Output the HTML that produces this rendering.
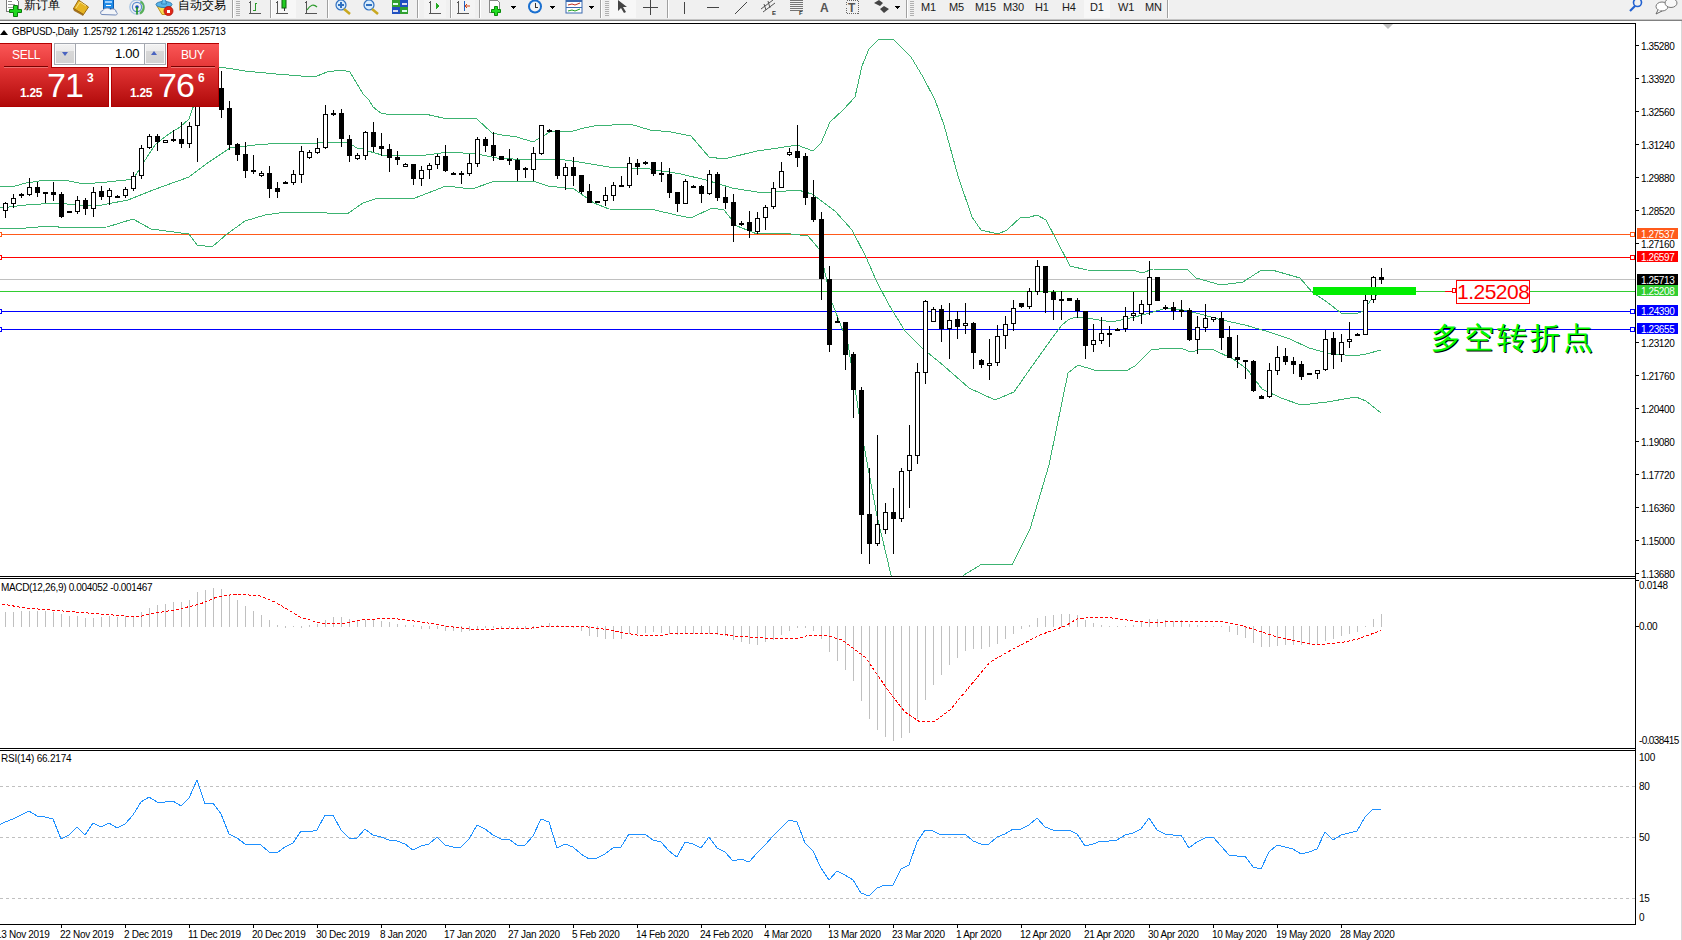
<!DOCTYPE html><html><head><meta charset="utf-8"><title>GBPUSD Daily</title><style>
html,body{margin:0;padding:0;width:1682px;height:940px;overflow:hidden;background:#fff}
.t{position:absolute;font-family:"Liberation Sans",sans-serif;white-space:nowrap;line-height:1}
.tb{font-size:11px;color:#1a1a1a;letter-spacing:-0.2px}.cj{font-family:"Liberation Serif",serif;font-size:12px;color:#000;font-weight:500}
svg{position:absolute;left:0;top:0}
</style></head><body>
<svg width="1682" height="940" viewBox="0 0 1682 940" shape-rendering="crispEdges" font-family='"Liberation Sans", sans-serif'>
<rect x="0" y="0" width="1682" height="19" fill="#f0f0f0"/>
<rect x="0" y="19" width="1682" height="1" fill="#c4c4c4"/>
<rect x="0" y="20" width="1682" height="1" fill="#808080"/>
<rect x="232" y="0" width="1" height="18" fill="#a0a0a0"/><rect x="233" y="0" width="1" height="18" fill="#ffffff"/>
<rect x="270" y="0" width="1" height="18" fill="#a0a0a0"/><rect x="271" y="0" width="1" height="18" fill="#ffffff"/>
<rect x="327" y="0" width="1" height="18" fill="#a0a0a0"/><rect x="328" y="0" width="1" height="18" fill="#ffffff"/>
<rect x="417" y="0" width="1" height="18" fill="#a0a0a0"/><rect x="418" y="0" width="1" height="18" fill="#ffffff"/>
<rect x="450" y="0" width="1" height="18" fill="#a0a0a0"/><rect x="451" y="0" width="1" height="18" fill="#ffffff"/>
<rect x="479" y="0" width="1" height="18" fill="#a0a0a0"/><rect x="480" y="0" width="1" height="18" fill="#ffffff"/>
<rect x="600" y="0" width="1" height="18" fill="#a0a0a0"/><rect x="601" y="0" width="1" height="18" fill="#ffffff"/>
<rect x="667" y="0" width="1" height="18" fill="#a0a0a0"/><rect x="668" y="0" width="1" height="18" fill="#ffffff"/>
<rect x="906" y="0" width="1" height="18" fill="#a0a0a0"/><rect x="907" y="0" width="1" height="18" fill="#ffffff"/>
<rect x="1167" y="0" width="1" height="18" fill="#a0a0a0"/><rect x="1168" y="0" width="1" height="18" fill="#ffffff"/>
<rect x="236" y="1" width="4" height="1" fill="#b0b0b0"/>
<rect x="236" y="3" width="4" height="1" fill="#b0b0b0"/>
<rect x="236" y="5" width="4" height="1" fill="#b0b0b0"/>
<rect x="236" y="7" width="4" height="1" fill="#b0b0b0"/>
<rect x="236" y="9" width="4" height="1" fill="#b0b0b0"/>
<rect x="236" y="11" width="4" height="1" fill="#b0b0b0"/>
<rect x="236" y="13" width="4" height="1" fill="#b0b0b0"/>
<rect x="236" y="15" width="4" height="1" fill="#b0b0b0"/>
<rect x="605" y="1" width="4" height="1" fill="#b0b0b0"/>
<rect x="605" y="3" width="4" height="1" fill="#b0b0b0"/>
<rect x="605" y="5" width="4" height="1" fill="#b0b0b0"/>
<rect x="605" y="7" width="4" height="1" fill="#b0b0b0"/>
<rect x="605" y="9" width="4" height="1" fill="#b0b0b0"/>
<rect x="605" y="11" width="4" height="1" fill="#b0b0b0"/>
<rect x="605" y="13" width="4" height="1" fill="#b0b0b0"/>
<rect x="605" y="15" width="4" height="1" fill="#b0b0b0"/>
<rect x="910" y="1" width="4" height="1" fill="#b0b0b0"/>
<rect x="910" y="3" width="4" height="1" fill="#b0b0b0"/>
<rect x="910" y="5" width="4" height="1" fill="#b0b0b0"/>
<rect x="910" y="7" width="4" height="1" fill="#b0b0b0"/>
<rect x="910" y="9" width="4" height="1" fill="#b0b0b0"/>
<rect x="910" y="11" width="4" height="1" fill="#b0b0b0"/>
<rect x="910" y="13" width="4" height="1" fill="#b0b0b0"/>
<rect x="910" y="15" width="4" height="1" fill="#b0b0b0"/>
<rect x="272" y="0" width="24" height="18" fill="#f7f7f7"/>
<rect x="610" y="0" width="26" height="18" fill="#f7f7f7"/>
<rect x="1084" y="0" width="26" height="18" fill="#f7f7f7"/>
<rect x="424" y="0" width="22" height="18" fill="#f4f4f4"/><rect x="453" y="0" width="22" height="18" fill="#f4f4f4"/>
<rect x="0" y="0" width="1" height="1" fill="#f0f0f0"/>
<path d="M6.5,-2 H15 L18.5,1.5 V11.5 H6.5 Z" fill="#fff" stroke="#7a7a7a"/>
<rect x="8" y="1" width="4" height="1" fill="#888"/><rect x="8" y="4" width="7" height="1" fill="#999"/><rect x="8" y="7" width="5" height="1" fill="#999"/>
<path d="M13.5,5.5 h4 v4 h4 v3 h-4 v4 h-4 v-4 h-4 v-3 h4 z" fill="#1ed81e" stroke="#0a7a0a" shape-rendering="auto"/>
<path d="M73.5,8.5 L78.5,0 L88.5,7 L83.5,14.5 Z" fill="#e6b422" stroke="#9a6a10" shape-rendering="auto"/>
<path d="M73.5,8.5 L83.5,14.5 L83,15.5 L74,10.5 Z" fill="#b07818" stroke="#8a5a10" stroke-width="0.6" shape-rendering="auto"/>
<path d="M76,8 L80,2 L86,6" fill="none" stroke="#f8e080" stroke-width="1" shape-rendering="auto"/>
<rect x="103.5" y="-1.5" width="10" height="10" fill="#1f8ae6" stroke="#0a5ab0" shape-rendering="auto"/>
<rect x="105" y="1" width="7" height="2" fill="#9fd0ff"/><rect x="106" y="5" width="5" height="1" fill="#fff"/>
<path d="M102,14.5 C100,14.5 100,10.5 103,10.5 C104,7.5 109,7.5 110.5,9.5 C112,8 116.5,9 116,12 C118,12.5 117.5,15 115.5,15 Z" fill="#f2f4f8" stroke="#6f88b8" shape-rendering="auto"/>
<circle cx="137" cy="7" r="7.2" fill="none" stroke="#a8c4e4" stroke-width="1.3" shape-rendering="auto"/>
<circle cx="137" cy="7" r="4.6" fill="none" stroke="#5a8ad0" stroke-width="1.2" shape-rendering="auto"/>
<circle cx="137" cy="7" r="1.8" fill="#1a50c0" shape-rendering="auto"/>
<path d="M140.5,1.5 A7,7 0 0 1 140,13.5" stroke="#58b058" stroke-width="2" fill="none" shape-rendering="auto"/>
<path d="M137,7 V14.5" stroke="#189018" stroke-width="1.6" fill="none" shape-rendering="auto"/>
<path d="M157,6 L171,6 L166,14.5 L162,14.5 Z" fill="#f6dc50" stroke="#c09020" shape-rendering="auto"/>
<ellipse cx="164" cy="4.5" rx="8" ry="3" fill="#5ab4e8" stroke="#2a78b0" shape-rendering="auto"/>
<path d="M161.5,4 L163,-2 L165,-2 L166.5,4 Z" fill="#68c0f0" stroke="#2a78b0" stroke-width="0.8" shape-rendering="auto"/>
<circle cx="168.5" cy="11" r="4.5" fill="#e02818" stroke="#b01008" stroke-width="0.8" shape-rendering="auto"/>
<rect x="167" y="9.5" width="3" height="3" fill="#fff"/>
<rect x="250" y="1" width="1" height="13" fill="#555"/><rect x="249" y="13" width="12" height="1" fill="#555"/>
<path d="M249,3 L250,1 L251,3 Z" fill="#555"/>
<rect x="255" y="3" width="1" height="8" fill="#2a9a2a"/><rect x="255" y="3" width="2" height="1" fill="#2a9a2a"/><rect x="253" y="10" width="2" height="1" fill="#2a9a2a"/>
<rect x="277" y="1" width="1" height="13" fill="#555"/><rect x="276" y="13" width="12" height="1" fill="#555"/>
<path d="M276,3 L277,1 L278,3 Z" fill="#555"/>
<rect x="282" y="-1" width="4" height="9" fill="#22cc22" stroke="#106010" shape-rendering="auto"/><rect x="284" y="8" width="1" height="3" fill="#333"/>
<rect x="306" y="1" width="1" height="13" fill="#555"/><rect x="305" y="13" width="12" height="1" fill="#555"/>
<path d="M305,3 L306,1 L307,3 Z" fill="#555"/>
<path d="M307,10 Q312,2 317,7" stroke="#2a9a2a" fill="none" stroke-width="1.2" shape-rendering="auto"/>
<circle cx="341" cy="5" r="5" fill="#d8ecfc" stroke="#3070c0" stroke-width="1.2" shape-rendering="auto"/>
<rect x="338" y="4" width="6" height="2" fill="#3070c0"/>
<rect x="340" y="2" width="2" height="6" fill="#3070c0"/>
<path d="M344,9 L350,14" stroke="#c8a820" stroke-width="2.5" shape-rendering="auto"/>
<circle cx="369" cy="5" r="5" fill="#d8ecfc" stroke="#3070c0" stroke-width="1.2" shape-rendering="auto"/>
<rect x="366" y="4" width="6" height="2" fill="#3070c0"/>
<path d="M372,9 L378,14" stroke="#c8a820" stroke-width="2.5" shape-rendering="auto"/>
<rect x="392" y="0" width="8" height="7" fill="#30a030"/><rect x="400" y="0" width="8" height="7" fill="#2050c0"/>
<rect x="392" y="7" width="8" height="7" fill="#2050c0"/><rect x="400" y="7" width="8" height="7" fill="#30a030"/>
<rect x="393" y="3" width="5" height="2" fill="#dfe"/><rect x="402" y="3" width="5" height="2" fill="#dde"/><rect x="393" y="10" width="5" height="2" fill="#dde"/><rect x="402" y="10" width="5" height="2" fill="#dfe"/>
<rect x="430" y="1" width="1" height="13" fill="#555"/><rect x="429" y="13" width="12" height="1" fill="#555"/>
<path d="M429,3 L430,1 L431,3 Z" fill="#555"/>
<path d="M436,3 L440,6 L436,9 Z" fill="#22aa22"/>
<rect x="458" y="1" width="1" height="13" fill="#555"/><rect x="457" y="13" width="12" height="1" fill="#555"/>
<path d="M457,3 L458,1 L459,3 Z" fill="#555"/>
<rect x="464" y="1" width="1" height="10" fill="#2060c0"/><path d="M470,6 L466,6 M467,4 L465,6 L467,8" stroke="#d04010" fill="none" shape-rendering="auto"/>
<path d="M489.5,0 H497 L499.5,2.5 V12.5 H489.5 Z" fill="#fff" stroke="#888"/>
<path d="M494.5,6.5 h3 v3 h3 v3 h-3 v3 h-3 v-3 h-3 v-3 h3 z" fill="#22dd22" stroke="#0a8a0a" shape-rendering="auto"/>
<path d="M510,6 L516,6 L513,9 Z" fill="#000"/>
<path d="M549,6 L555,6 L552,9 Z" fill="#000"/>
<path d="M588,6 L594,6 L591,9 Z" fill="#000"/>
<path d="M894,6 L900,6 L897,9 Z" fill="#000"/>
<circle cx="535" cy="6.5" r="7" fill="#1a70d0" shape-rendering="auto"/><circle cx="535" cy="6.5" r="5" fill="#f4f4f4" shape-rendering="auto"/>
<path d="M535,3 V7 H538" stroke="#333" fill="none"/>
<rect x="566" y="0" width="16" height="13" fill="#fff" stroke="#3a6ab0" shape-rendering="auto"/><rect x="566" y="0" width="16" height="2" fill="#3a6ab0"/><rect x="566" y="7" width="16" height="1" fill="#3a6ab0"/>
<path d="M568,5 L572,4 L575,5 L580,3" stroke="#c03020" fill="none" shape-rendering="auto"/><path d="M568,11 L572,10 L575,11 L580,9" stroke="#20a020" fill="none" shape-rendering="auto"/>
<path d="M618,0 L618,11 L621,8 L624,13 L626,12 L623,7 L627,7 Z" fill="#444" shape-rendering="auto"/>
<rect x="643" y="7" width="15" height="1" fill="#444"/><rect x="650" y="0" width="1" height="15" fill="#444"/>
<rect x="684" y="2" width="1" height="12" fill="#444"/>
<rect x="707" y="7" width="12" height="1" fill="#444"/>
<path d="M735,14 L747,2" stroke="#444" shape-rendering="auto"/>
<path d="M761,9 L773,0 M763,12 L775,3 M764,4 L766,10 M768,1 L770,8" stroke="#555" fill="none" shape-rendering="auto"/>
<text x="772" y="15" font-size="6" font-weight="bold" fill="#333">E</text>
<rect x="790" y="0" width="13" height="1" fill="#555" opacity="0.8"/>
<rect x="790" y="2" width="13" height="1" fill="#555" opacity="0.8"/>
<rect x="790" y="4" width="13" height="1" fill="#555" opacity="0.8"/>
<rect x="790" y="6" width="13" height="1" fill="#555" opacity="0.8"/>
<rect x="790" y="8" width="13" height="1" fill="#555" opacity="0.8"/>
<rect x="790" y="10" width="13" height="1" fill="#555" opacity="0.8"/>
<text x="799" y="15" font-size="6" font-weight="bold" fill="#333">F</text>
<text x="820" y="12" font-size="12" font-weight="bold" fill="#555">A</text>
<rect x="846.5" y="0.5" width="12" height="13" fill="none" stroke="#666" stroke-dasharray="1,1"/>
<text x="848" y="12" font-size="12" font-weight="bold" fill="#555">T</text>
<path d="M874,3 L879,0 L883,3 L880,6 Z M880,9 L884,6 L889,9 L884,13 Z" fill="#444" shape-rendering="auto"/>
<circle cx="1637.5" cy="2.5" r="4" fill="none" stroke="#2060d0" stroke-width="1.6" shape-rendering="auto"/>
<path d="M1635,6 L1630,11" stroke="#2060d0" stroke-width="2.2" shape-rendering="auto"/>
<ellipse cx="1662" cy="6.5" rx="6" ry="4.5" fill="#fff" stroke="#777" shape-rendering="auto"/>
<ellipse cx="1671" cy="3" rx="6" ry="4.5" fill="#f8f8f8" stroke="#777" shape-rendering="auto"/>
<path d="M1658,10 L1656,14 L1662,11" fill="#fff" stroke="#666" shape-rendering="auto"/>
<rect x="1681" y="21" width="1" height="919" fill="#d9d9d9"/>
<defs><clipPath id="cm"><rect x="0" y="24" width="1635" height="552"/></clipPath><clipPath id="cd"><rect x="0" y="579" width="1635" height="169"/></clipPath><clipPath id="cr"><rect x="0" y="751" width="1635" height="173"/></clipPath></defs>
<g clip-path="url(#cm)">
<rect x="0" y="234" width="1635" height="1" fill="#ff5a1a"/>
<rect x="0" y="257" width="1635" height="1" fill="#ff0000"/>
<rect x="0" y="279" width="1635" height="1" fill="#c0c0c0"/>
<rect x="0" y="291" width="1635" height="1" fill="#32cd32"/>
<rect x="0" y="311" width="1635" height="1" fill="#0000ff"/>
<rect x="0" y="329" width="1635" height="1" fill="#0000ff"/>
<rect x="-3" y="232" width="4" height="4" fill="#fff" stroke="#ff5a1a" stroke-width="1" transform="translate(0.5,0.5)"/>
<rect x="1630" y="232" width="4" height="4" fill="#fff" stroke="#ff5a1a" stroke-width="1" transform="translate(0.5,0.5)"/>
<rect x="-3" y="255" width="4" height="4" fill="#fff" stroke="#ff0000" stroke-width="1" transform="translate(0.5,0.5)"/>
<rect x="1630" y="255" width="4" height="4" fill="#fff" stroke="#ff0000" stroke-width="1" transform="translate(0.5,0.5)"/>
<rect x="-3" y="309" width="4" height="4" fill="#fff" stroke="#0000ff" stroke-width="1" transform="translate(0.5,0.5)"/>
<rect x="1630" y="309" width="4" height="4" fill="#fff" stroke="#0000ff" stroke-width="1" transform="translate(0.5,0.5)"/>
<rect x="-3" y="327" width="4" height="4" fill="#fff" stroke="#0000ff" stroke-width="1" transform="translate(0.5,0.5)"/>
<rect x="1630" y="327" width="4" height="4" fill="#fff" stroke="#0000ff" stroke-width="1" transform="translate(0.5,0.5)"/>
<polyline points="0,187 15,186 26,183 46,180 64,180 84,184 107,182 126,180 133,179 139,170 149,154 155,145 162,139 169,134 180,127 189,119 192,110 196,100 220,67 245,71 276,74 301,76 317,76 327,72 342,70 350,72 363,94 369,100 373,107 381,113 386,114 425,114 443,118 477,119 492,133 502,135 517,137 533,142 543,136 552,131 573,131 584,128 594,126 630,124 650,130 671,132 691,136 709,157 724,159 757,151 778,148 797,145 805,148 813,151 821,143 830,122 843,110 855,97 862,66 869,49 878,40 893,39 911,57 923,77 935,100 944,125 958,176 972,217 981,230 998,234 1007,230 1021,217 1030,217 1037,215 1046,220 1058,243 1070,266 1087,270 1136,271 1142,273 1153,269 1188,270 1196,278 1221,285 1243,282 1260,271 1272,270 1300,278 1312,292 1327,302 1341,313 1356,314 1363,311 1371,300 1381,292" fill="none" stroke="#3cb371" stroke-width="1" />
<polyline points="0,208 26,205 56,203 77,205 102,205 128,200 153,190 189,177 209,162 230,148 255,145 281,143 306,144 329,142 345,142 352,145 357,148 363,149 368,151 375,153 382,155 400,156 426,155 449,152 477,154 497,158 528,160 558,159 579,162 609,167 650,169 681,174 706,180 732,188 763,193 798,190 812,194 835,211 852,230 866,257 876,280 889,305 905,331 921,347 944,366 969,388 995,400 1014,392 1030,369 1055,334 1062,325 1068,320 1075,317 1082,317 1099,320 1106,321 1116,321 1135,317 1167,308 1183,310 1200,314 1222,320 1245,325 1269,332 1290,339 1309,348 1327,353 1354,356 1366,354 1381,350" fill="none" stroke="#3cb371" stroke-width="1" />
<polyline points="0,229 26,228 51,226 66,228 107,227 133,219 151,229 189,234 197,245 212,247 227,234 245,221 265,215 286,212 306,212 347,214 363,203 378,198 415,198 446,186 472,189 495,181 533,181 548,186 574,189 594,203 609,209 655,210 676,215 691,218 712,208 724,210 737,226 757,234 783,233 808,236 820,250 831,300 848,344 864,446 877,516 891,575 900,600 950,600 964,575 982,564 1012,565 1030,529 1049,465 1068,373 1078,365 1094,370 1126,371 1135,366 1151,350 1167,348 1183,349 1191,352 1202,349 1214,350 1233,359 1247,369 1262,389 1281,398 1301,405 1327,402 1356,397 1366,401 1381,413" fill="none" stroke="#3cb371" stroke-width="1" />
<rect x="5" y="202" width="1" height="16" fill="#000"/>
<rect x="3" y="203" width="5" height="8" fill="#000"/>
<rect x="4" y="204" width="3" height="6" fill="#fff"/>
<rect x="13" y="194" width="1" height="14" fill="#000"/>
<rect x="11" y="198" width="5" height="6" fill="#000"/>
<rect x="12" y="199" width="3" height="4" fill="#fff"/>
<rect x="21" y="193" width="1" height="5" fill="#000"/>
<rect x="19" y="194" width="5" height="2" fill="#000"/>
<rect x="29" y="178" width="1" height="18" fill="#000"/>
<rect x="27" y="187" width="5" height="8" fill="#000"/>
<rect x="28" y="188" width="3" height="6" fill="#fff"/>
<rect x="37" y="182" width="1" height="15" fill="#000"/>
<rect x="35" y="187" width="5" height="6" fill="#000"/>
<rect x="45" y="192" width="1" height="11" fill="#000"/>
<rect x="43" y="192" width="5" height="2" fill="#000"/>
<rect x="53" y="182" width="1" height="19" fill="#000"/>
<rect x="51" y="192" width="5" height="3" fill="#000"/>
<rect x="61" y="192" width="1" height="26" fill="#000"/>
<rect x="59" y="194" width="5" height="23" fill="#000"/>
<rect x="69" y="212" width="1" height="1" fill="#000"/>
<rect x="67" y="211" width="5" height="2" fill="#000"/>
<rect x="77" y="196" width="1" height="18" fill="#000"/>
<rect x="75" y="200" width="5" height="12" fill="#000"/>
<rect x="76" y="201" width="3" height="10" fill="#fff"/>
<rect x="85" y="198" width="1" height="17" fill="#000"/>
<rect x="83" y="200" width="5" height="9" fill="#000"/>
<rect x="93" y="187" width="1" height="30" fill="#000"/>
<rect x="91" y="192" width="5" height="17" fill="#000"/>
<rect x="92" y="193" width="3" height="15" fill="#fff"/>
<rect x="101" y="186" width="1" height="14" fill="#000"/>
<rect x="99" y="191" width="5" height="6" fill="#000"/>
<rect x="109" y="188" width="1" height="17" fill="#000"/>
<rect x="107" y="190" width="5" height="7" fill="#000"/>
<rect x="108" y="191" width="3" height="5" fill="#fff"/>
<rect x="117" y="195" width="1" height="2" fill="#000"/>
<rect x="115" y="196" width="5" height="2" fill="#000"/>
<rect x="125" y="187" width="1" height="11" fill="#000"/>
<rect x="123" y="189" width="5" height="7" fill="#000"/>
<rect x="124" y="190" width="3" height="5" fill="#fff"/>
<rect x="133" y="172" width="1" height="19" fill="#000"/>
<rect x="131" y="176" width="5" height="13" fill="#000"/>
<rect x="132" y="177" width="3" height="11" fill="#fff"/>
<rect x="141" y="145" width="1" height="34" fill="#000"/>
<rect x="139" y="148" width="5" height="28" fill="#000"/>
<rect x="140" y="149" width="3" height="26" fill="#fff"/>
<rect x="149" y="134" width="1" height="15" fill="#000"/>
<rect x="147" y="136" width="5" height="12" fill="#000"/>
<rect x="148" y="137" width="3" height="10" fill="#fff"/>
<rect x="157" y="134" width="1" height="17" fill="#000"/>
<rect x="155" y="136" width="5" height="6" fill="#000"/>
<rect x="165" y="140" width="1" height="3" fill="#000"/>
<rect x="163" y="140" width="5" height="3" fill="#000"/>
<rect x="164" y="141" width="3" height="1" fill="#fff"/>
<rect x="173" y="130" width="1" height="12" fill="#000"/>
<rect x="171" y="139" width="5" height="2" fill="#000"/>
<rect x="181" y="122" width="1" height="26" fill="#000"/>
<rect x="179" y="139" width="5" height="5" fill="#000"/>
<rect x="189" y="122" width="1" height="26" fill="#000"/>
<rect x="187" y="126" width="5" height="18" fill="#000"/>
<rect x="188" y="127" width="3" height="16" fill="#fff"/>
<rect x="197" y="95" width="1" height="67" fill="#000"/>
<rect x="195" y="100" width="5" height="26" fill="#000"/>
<rect x="196" y="101" width="3" height="24" fill="#fff"/>
<rect x="205" y="49" width="1" height="51" fill="#000"/>
<rect x="203" y="60" width="5" height="35" fill="#000"/>
<rect x="204" y="61" width="3" height="33" fill="#fff"/>
<rect x="213" y="60" width="1" height="15" fill="#000"/>
<rect x="211" y="62" width="5" height="8" fill="#000"/>
<rect x="221" y="71" width="1" height="47" fill="#000"/>
<rect x="219" y="88" width="5" height="22" fill="#000"/>
<rect x="229" y="101" width="1" height="49" fill="#000"/>
<rect x="227" y="108" width="5" height="37" fill="#000"/>
<rect x="237" y="143" width="1" height="18" fill="#000"/>
<rect x="235" y="144" width="5" height="11" fill="#000"/>
<rect x="245" y="142" width="1" height="36" fill="#000"/>
<rect x="243" y="154" width="5" height="17" fill="#000"/>
<rect x="253" y="155" width="1" height="19" fill="#000"/>
<rect x="251" y="170" width="5" height="2" fill="#000"/>
<rect x="261" y="171" width="1" height="6" fill="#000"/>
<rect x="259" y="173" width="5" height="3" fill="#000"/>
<rect x="260" y="174" width="3" height="1" fill="#fff"/>
<rect x="269" y="166" width="1" height="32" fill="#000"/>
<rect x="267" y="173" width="5" height="16" fill="#000"/>
<rect x="277" y="182" width="1" height="16" fill="#000"/>
<rect x="275" y="188" width="5" height="4" fill="#000"/>
<rect x="285" y="181" width="1" height="2" fill="#000"/>
<rect x="283" y="182" width="5" height="2" fill="#000"/>
<rect x="293" y="170" width="1" height="15" fill="#000"/>
<rect x="291" y="174" width="5" height="9" fill="#000"/>
<rect x="292" y="175" width="3" height="7" fill="#fff"/>
<rect x="301" y="146" width="1" height="37" fill="#000"/>
<rect x="299" y="151" width="5" height="24" fill="#000"/>
<rect x="300" y="152" width="3" height="22" fill="#fff"/>
<rect x="309" y="150" width="1" height="9" fill="#000"/>
<rect x="307" y="152" width="5" height="6" fill="#000"/>
<rect x="308" y="153" width="3" height="4" fill="#fff"/>
<rect x="317" y="138" width="1" height="16" fill="#000"/>
<rect x="315" y="148" width="5" height="5" fill="#000"/>
<rect x="316" y="149" width="3" height="3" fill="#fff"/>
<rect x="325" y="105" width="1" height="44" fill="#000"/>
<rect x="323" y="114" width="5" height="34" fill="#000"/>
<rect x="324" y="115" width="3" height="32" fill="#fff"/>
<rect x="333" y="110" width="1" height="6" fill="#000"/>
<rect x="331" y="113" width="5" height="2" fill="#000"/>
<rect x="341" y="109" width="1" height="38" fill="#000"/>
<rect x="339" y="113" width="5" height="26" fill="#000"/>
<rect x="349" y="135" width="1" height="27" fill="#000"/>
<rect x="347" y="139" width="5" height="17" fill="#000"/>
<rect x="357" y="153" width="1" height="7" fill="#000"/>
<rect x="355" y="155" width="5" height="4" fill="#000"/>
<rect x="356" y="156" width="3" height="2" fill="#fff"/>
<rect x="365" y="131" width="1" height="29" fill="#000"/>
<rect x="363" y="132" width="5" height="24" fill="#000"/>
<rect x="364" y="133" width="3" height="22" fill="#fff"/>
<rect x="373" y="122" width="1" height="30" fill="#000"/>
<rect x="371" y="132" width="5" height="15" fill="#000"/>
<rect x="381" y="133" width="1" height="23" fill="#000"/>
<rect x="379" y="146" width="5" height="3" fill="#000"/>
<rect x="389" y="144" width="1" height="28" fill="#000"/>
<rect x="387" y="149" width="5" height="9" fill="#000"/>
<rect x="397" y="151" width="1" height="14" fill="#000"/>
<rect x="395" y="157" width="5" height="3" fill="#000"/>
<rect x="405" y="163" width="1" height="4" fill="#000"/>
<rect x="403" y="164" width="5" height="3" fill="#000"/>
<rect x="404" y="165" width="3" height="1" fill="#fff"/>
<rect x="413" y="164" width="1" height="21" fill="#000"/>
<rect x="411" y="164" width="5" height="15" fill="#000"/>
<rect x="421" y="166" width="1" height="20" fill="#000"/>
<rect x="419" y="170" width="5" height="9" fill="#000"/>
<rect x="420" y="171" width="3" height="7" fill="#fff"/>
<rect x="429" y="163" width="1" height="16" fill="#000"/>
<rect x="427" y="165" width="5" height="5" fill="#000"/>
<rect x="428" y="166" width="3" height="3" fill="#fff"/>
<rect x="437" y="154" width="1" height="15" fill="#000"/>
<rect x="435" y="156" width="5" height="9" fill="#000"/>
<rect x="436" y="157" width="3" height="7" fill="#fff"/>
<rect x="445" y="145" width="1" height="27" fill="#000"/>
<rect x="443" y="156" width="5" height="15" fill="#000"/>
<rect x="453" y="172" width="1" height="3" fill="#000"/>
<rect x="451" y="173" width="5" height="2" fill="#000"/>
<rect x="461" y="171" width="1" height="13" fill="#000"/>
<rect x="459" y="173" width="5" height="2" fill="#000"/>
<rect x="469" y="154" width="1" height="22" fill="#000"/>
<rect x="467" y="163" width="5" height="11" fill="#000"/>
<rect x="468" y="164" width="3" height="9" fill="#fff"/>
<rect x="477" y="137" width="1" height="30" fill="#000"/>
<rect x="475" y="139" width="5" height="25" fill="#000"/>
<rect x="476" y="140" width="3" height="23" fill="#fff"/>
<rect x="485" y="137" width="1" height="15" fill="#000"/>
<rect x="483" y="139" width="5" height="7" fill="#000"/>
<rect x="493" y="132" width="1" height="29" fill="#000"/>
<rect x="491" y="145" width="5" height="11" fill="#000"/>
<rect x="501" y="156" width="1" height="4" fill="#000"/>
<rect x="499" y="156" width="5" height="4" fill="#000"/>
<rect x="509" y="149" width="1" height="16" fill="#000"/>
<rect x="507" y="159" width="5" height="2" fill="#000"/>
<rect x="517" y="158" width="1" height="23" fill="#000"/>
<rect x="515" y="160" width="5" height="10" fill="#000"/>
<rect x="525" y="167" width="1" height="11" fill="#000"/>
<rect x="523" y="168" width="5" height="2" fill="#000"/>
<rect x="533" y="147" width="1" height="34" fill="#000"/>
<rect x="531" y="153" width="5" height="17" fill="#000"/>
<rect x="532" y="154" width="3" height="15" fill="#fff"/>
<rect x="541" y="125" width="1" height="30" fill="#000"/>
<rect x="539" y="125" width="5" height="29" fill="#000"/>
<rect x="540" y="126" width="3" height="27" fill="#fff"/>
<rect x="549" y="129" width="1" height="3" fill="#000"/>
<rect x="547" y="130" width="5" height="2" fill="#000"/>
<rect x="557" y="130" width="1" height="49" fill="#000"/>
<rect x="555" y="130" width="5" height="46" fill="#000"/>
<rect x="565" y="163" width="1" height="27" fill="#000"/>
<rect x="563" y="167" width="5" height="9" fill="#000"/>
<rect x="564" y="168" width="3" height="7" fill="#fff"/>
<rect x="573" y="157" width="1" height="29" fill="#000"/>
<rect x="571" y="167" width="5" height="9" fill="#000"/>
<rect x="581" y="175" width="1" height="19" fill="#000"/>
<rect x="579" y="175" width="5" height="17" fill="#000"/>
<rect x="589" y="184" width="1" height="19" fill="#000"/>
<rect x="587" y="191" width="5" height="12" fill="#000"/>
<rect x="597" y="201" width="1" height="2" fill="#000"/>
<rect x="595" y="201" width="5" height="2" fill="#000"/>
<rect x="605" y="187" width="1" height="19" fill="#000"/>
<rect x="603" y="195" width="5" height="6" fill="#000"/>
<rect x="604" y="196" width="3" height="4" fill="#fff"/>
<rect x="613" y="182" width="1" height="19" fill="#000"/>
<rect x="611" y="185" width="5" height="11" fill="#000"/>
<rect x="612" y="186" width="3" height="9" fill="#fff"/>
<rect x="621" y="176" width="1" height="10" fill="#000"/>
<rect x="619" y="185" width="5" height="2" fill="#000"/>
<rect x="629" y="157" width="1" height="31" fill="#000"/>
<rect x="627" y="163" width="5" height="23" fill="#000"/>
<rect x="628" y="164" width="3" height="21" fill="#fff"/>
<rect x="637" y="159" width="1" height="16" fill="#000"/>
<rect x="635" y="163" width="5" height="4" fill="#000"/>
<rect x="645" y="161" width="1" height="4" fill="#000"/>
<rect x="643" y="162" width="5" height="2" fill="#000"/>
<rect x="653" y="162" width="1" height="14" fill="#000"/>
<rect x="651" y="162" width="5" height="12" fill="#000"/>
<rect x="661" y="162" width="1" height="20" fill="#000"/>
<rect x="659" y="173" width="5" height="2" fill="#000"/>
<rect x="669" y="168" width="1" height="30" fill="#000"/>
<rect x="667" y="174" width="5" height="19" fill="#000"/>
<rect x="677" y="192" width="1" height="20" fill="#000"/>
<rect x="675" y="192" width="5" height="12" fill="#000"/>
<rect x="685" y="179" width="1" height="25" fill="#000"/>
<rect x="683" y="181" width="5" height="23" fill="#000"/>
<rect x="684" y="182" width="3" height="21" fill="#fff"/>
<rect x="693" y="185" width="1" height="3" fill="#000"/>
<rect x="691" y="186" width="5" height="2" fill="#000"/>
<rect x="701" y="185" width="1" height="18" fill="#000"/>
<rect x="699" y="186" width="5" height="8" fill="#000"/>
<rect x="709" y="170" width="1" height="25" fill="#000"/>
<rect x="707" y="174" width="5" height="20" fill="#000"/>
<rect x="708" y="175" width="3" height="18" fill="#fff"/>
<rect x="717" y="172" width="1" height="29" fill="#000"/>
<rect x="715" y="174" width="5" height="24" fill="#000"/>
<rect x="725" y="187" width="1" height="22" fill="#000"/>
<rect x="723" y="197" width="5" height="6" fill="#000"/>
<rect x="733" y="194" width="1" height="48" fill="#000"/>
<rect x="731" y="202" width="5" height="24" fill="#000"/>
<rect x="741" y="221" width="1" height="5" fill="#000"/>
<rect x="739" y="223" width="5" height="2" fill="#000"/>
<rect x="749" y="211" width="1" height="27" fill="#000"/>
<rect x="747" y="222" width="5" height="9" fill="#000"/>
<rect x="757" y="212" width="1" height="22" fill="#000"/>
<rect x="755" y="218" width="5" height="14" fill="#000"/>
<rect x="756" y="219" width="3" height="12" fill="#fff"/>
<rect x="765" y="205" width="1" height="25" fill="#000"/>
<rect x="763" y="207" width="5" height="11" fill="#000"/>
<rect x="764" y="208" width="3" height="9" fill="#fff"/>
<rect x="773" y="182" width="1" height="27" fill="#000"/>
<rect x="771" y="188" width="5" height="19" fill="#000"/>
<rect x="772" y="189" width="3" height="17" fill="#fff"/>
<rect x="781" y="162" width="1" height="26" fill="#000"/>
<rect x="779" y="171" width="5" height="17" fill="#000"/>
<rect x="780" y="172" width="3" height="15" fill="#fff"/>
<rect x="789" y="148" width="1" height="8" fill="#000"/>
<rect x="787" y="152" width="5" height="3" fill="#000"/>
<rect x="788" y="153" width="3" height="1" fill="#fff"/>
<rect x="797" y="125" width="1" height="42" fill="#000"/>
<rect x="795" y="151" width="5" height="7" fill="#000"/>
<rect x="805" y="153" width="1" height="52" fill="#000"/>
<rect x="803" y="156" width="5" height="42" fill="#000"/>
<rect x="813" y="180" width="1" height="42" fill="#000"/>
<rect x="811" y="197" width="5" height="23" fill="#000"/>
<rect x="821" y="212" width="1" height="88" fill="#000"/>
<rect x="819" y="219" width="5" height="60" fill="#000"/>
<rect x="829" y="266" width="1" height="86" fill="#000"/>
<rect x="827" y="279" width="5" height="66" fill="#000"/>
<rect x="837" y="317" width="1" height="6" fill="#000"/>
<rect x="835" y="321" width="5" height="2" fill="#000"/>
<rect x="845" y="322" width="1" height="48" fill="#000"/>
<rect x="843" y="322" width="5" height="33" fill="#000"/>
<rect x="853" y="352" width="1" height="66" fill="#000"/>
<rect x="851" y="354" width="5" height="36" fill="#000"/>
<rect x="861" y="387" width="1" height="167" fill="#000"/>
<rect x="859" y="390" width="5" height="125" fill="#000"/>
<rect x="869" y="468" width="1" height="96" fill="#000"/>
<rect x="867" y="514" width="5" height="30" fill="#000"/>
<rect x="877" y="435" width="1" height="111" fill="#000"/>
<rect x="875" y="524" width="5" height="20" fill="#000"/>
<rect x="876" y="525" width="3" height="18" fill="#fff"/>
<rect x="885" y="503" width="1" height="31" fill="#000"/>
<rect x="883" y="512" width="5" height="18" fill="#000"/>
<rect x="884" y="513" width="3" height="16" fill="#fff"/>
<rect x="893" y="488" width="1" height="66" fill="#000"/>
<rect x="891" y="512" width="5" height="7" fill="#000"/>
<rect x="901" y="468" width="1" height="54" fill="#000"/>
<rect x="899" y="471" width="5" height="48" fill="#000"/>
<rect x="900" y="472" width="3" height="46" fill="#fff"/>
<rect x="909" y="425" width="1" height="83" fill="#000"/>
<rect x="907" y="455" width="5" height="16" fill="#000"/>
<rect x="908" y="456" width="3" height="14" fill="#fff"/>
<rect x="917" y="363" width="1" height="101" fill="#000"/>
<rect x="915" y="372" width="5" height="84" fill="#000"/>
<rect x="916" y="373" width="3" height="82" fill="#fff"/>
<rect x="925" y="300" width="1" height="84" fill="#000"/>
<rect x="923" y="301" width="5" height="72" fill="#000"/>
<rect x="924" y="302" width="3" height="70" fill="#fff"/>
<rect x="933" y="307" width="1" height="15" fill="#000"/>
<rect x="931" y="309" width="5" height="13" fill="#000"/>
<rect x="932" y="310" width="3" height="11" fill="#fff"/>
<rect x="941" y="305" width="1" height="37" fill="#000"/>
<rect x="939" y="309" width="5" height="20" fill="#000"/>
<rect x="949" y="303" width="1" height="56" fill="#000"/>
<rect x="947" y="320" width="5" height="9" fill="#000"/>
<rect x="948" y="321" width="3" height="7" fill="#fff"/>
<rect x="957" y="311" width="1" height="28" fill="#000"/>
<rect x="955" y="319" width="5" height="8" fill="#000"/>
<rect x="965" y="303" width="1" height="31" fill="#000"/>
<rect x="963" y="323" width="5" height="3" fill="#000"/>
<rect x="964" y="324" width="3" height="1" fill="#fff"/>
<rect x="973" y="322" width="1" height="47" fill="#000"/>
<rect x="971" y="323" width="5" height="30" fill="#000"/>
<rect x="981" y="359" width="1" height="9" fill="#000"/>
<rect x="979" y="360" width="5" height="5" fill="#000"/>
<rect x="989" y="339" width="1" height="41" fill="#000"/>
<rect x="987" y="363" width="5" height="3" fill="#000"/>
<rect x="988" y="364" width="3" height="1" fill="#fff"/>
<rect x="997" y="325" width="1" height="41" fill="#000"/>
<rect x="995" y="336" width="5" height="27" fill="#000"/>
<rect x="996" y="337" width="3" height="25" fill="#fff"/>
<rect x="1005" y="316" width="1" height="33" fill="#000"/>
<rect x="1003" y="324" width="5" height="12" fill="#000"/>
<rect x="1004" y="325" width="3" height="10" fill="#fff"/>
<rect x="1013" y="300" width="1" height="31" fill="#000"/>
<rect x="1011" y="308" width="5" height="16" fill="#000"/>
<rect x="1012" y="309" width="3" height="14" fill="#fff"/>
<rect x="1021" y="303" width="1" height="5" fill="#000"/>
<rect x="1019" y="303" width="5" height="4" fill="#000"/>
<rect x="1029" y="288" width="1" height="21" fill="#000"/>
<rect x="1027" y="291" width="5" height="16" fill="#000"/>
<rect x="1028" y="292" width="3" height="14" fill="#fff"/>
<rect x="1037" y="260" width="1" height="35" fill="#000"/>
<rect x="1035" y="266" width="5" height="26" fill="#000"/>
<rect x="1036" y="267" width="3" height="24" fill="#fff"/>
<rect x="1045" y="266" width="1" height="47" fill="#000"/>
<rect x="1043" y="266" width="5" height="27" fill="#000"/>
<rect x="1053" y="290" width="1" height="30" fill="#000"/>
<rect x="1051" y="292" width="5" height="8" fill="#000"/>
<rect x="1061" y="291" width="1" height="29" fill="#000"/>
<rect x="1059" y="299" width="5" height="2" fill="#000"/>
<rect x="1069" y="298" width="1" height="3" fill="#000"/>
<rect x="1067" y="298" width="5" height="3" fill="#000"/>
<rect x="1077" y="298" width="1" height="20" fill="#000"/>
<rect x="1075" y="300" width="5" height="11" fill="#000"/>
<rect x="1085" y="311" width="1" height="48" fill="#000"/>
<rect x="1083" y="311" width="5" height="35" fill="#000"/>
<rect x="1093" y="324" width="1" height="28" fill="#000"/>
<rect x="1091" y="340" width="5" height="5" fill="#000"/>
<rect x="1092" y="341" width="3" height="3" fill="#fff"/>
<rect x="1101" y="317" width="1" height="27" fill="#000"/>
<rect x="1099" y="333" width="5" height="8" fill="#000"/>
<rect x="1100" y="334" width="3" height="6" fill="#fff"/>
<rect x="1109" y="326" width="1" height="21" fill="#000"/>
<rect x="1107" y="333" width="5" height="2" fill="#000"/>
<rect x="1117" y="328" width="1" height="3" fill="#000"/>
<rect x="1115" y="329" width="5" height="2" fill="#000"/>
<rect x="1125" y="307" width="1" height="25" fill="#000"/>
<rect x="1123" y="316" width="5" height="13" fill="#000"/>
<rect x="1124" y="317" width="3" height="11" fill="#fff"/>
<rect x="1133" y="292" width="1" height="29" fill="#000"/>
<rect x="1131" y="313" width="5" height="3" fill="#000"/>
<rect x="1132" y="314" width="3" height="1" fill="#fff"/>
<rect x="1141" y="300" width="1" height="24" fill="#000"/>
<rect x="1139" y="304" width="5" height="10" fill="#000"/>
<rect x="1140" y="305" width="3" height="8" fill="#fff"/>
<rect x="1149" y="261" width="1" height="54" fill="#000"/>
<rect x="1147" y="277" width="5" height="28" fill="#000"/>
<rect x="1148" y="278" width="3" height="26" fill="#fff"/>
<rect x="1157" y="277" width="1" height="24" fill="#000"/>
<rect x="1155" y="277" width="5" height="24" fill="#000"/>
<rect x="1165" y="305" width="1" height="5" fill="#000"/>
<rect x="1163" y="307" width="5" height="2" fill="#000"/>
<rect x="1173" y="302" width="1" height="18" fill="#000"/>
<rect x="1171" y="307" width="5" height="4" fill="#000"/>
<rect x="1181" y="300" width="1" height="17" fill="#000"/>
<rect x="1179" y="310" width="5" height="2" fill="#000"/>
<rect x="1189" y="308" width="1" height="33" fill="#000"/>
<rect x="1187" y="310" width="5" height="30" fill="#000"/>
<rect x="1197" y="316" width="1" height="38" fill="#000"/>
<rect x="1195" y="327" width="5" height="13" fill="#000"/>
<rect x="1196" y="328" width="3" height="11" fill="#fff"/>
<rect x="1205" y="304" width="1" height="28" fill="#000"/>
<rect x="1203" y="318" width="5" height="10" fill="#000"/>
<rect x="1204" y="319" width="3" height="8" fill="#fff"/>
<rect x="1213" y="317" width="1" height="5" fill="#000"/>
<rect x="1211" y="317" width="5" height="3" fill="#000"/>
<rect x="1212" y="318" width="3" height="1" fill="#fff"/>
<rect x="1221" y="312" width="1" height="38" fill="#000"/>
<rect x="1219" y="318" width="5" height="20" fill="#000"/>
<rect x="1229" y="326" width="1" height="32" fill="#000"/>
<rect x="1227" y="337" width="5" height="21" fill="#000"/>
<rect x="1237" y="335" width="1" height="33" fill="#000"/>
<rect x="1235" y="357" width="5" height="3" fill="#000"/>
<rect x="1245" y="360" width="1" height="19" fill="#000"/>
<rect x="1243" y="360" width="5" height="2" fill="#000"/>
<rect x="1253" y="360" width="1" height="32" fill="#000"/>
<rect x="1251" y="361" width="5" height="30" fill="#000"/>
<rect x="1261" y="395" width="1" height="4" fill="#000"/>
<rect x="1259" y="396" width="5" height="3" fill="#000"/>
<rect x="1269" y="363" width="1" height="35" fill="#000"/>
<rect x="1267" y="370" width="5" height="27" fill="#000"/>
<rect x="1268" y="371" width="3" height="25" fill="#fff"/>
<rect x="1277" y="346" width="1" height="29" fill="#000"/>
<rect x="1275" y="357" width="5" height="14" fill="#000"/>
<rect x="1276" y="358" width="3" height="12" fill="#fff"/>
<rect x="1285" y="348" width="1" height="17" fill="#000"/>
<rect x="1283" y="356" width="5" height="6" fill="#000"/>
<rect x="1293" y="357" width="1" height="17" fill="#000"/>
<rect x="1291" y="361" width="5" height="4" fill="#000"/>
<rect x="1301" y="361" width="1" height="19" fill="#000"/>
<rect x="1299" y="364" width="5" height="13" fill="#000"/>
<rect x="1309" y="373" width="1" height="2" fill="#000"/>
<rect x="1307" y="373" width="5" height="2" fill="#000"/>
<rect x="1317" y="370" width="1" height="9" fill="#000"/>
<rect x="1315" y="370" width="5" height="4" fill="#000"/>
<rect x="1316" y="371" width="3" height="2" fill="#fff"/>
<rect x="1325" y="330" width="1" height="41" fill="#000"/>
<rect x="1323" y="339" width="5" height="31" fill="#000"/>
<rect x="1324" y="340" width="3" height="29" fill="#fff"/>
<rect x="1333" y="332" width="1" height="37" fill="#000"/>
<rect x="1331" y="338" width="5" height="17" fill="#000"/>
<rect x="1341" y="334" width="1" height="28" fill="#000"/>
<rect x="1339" y="342" width="5" height="13" fill="#000"/>
<rect x="1340" y="343" width="3" height="11" fill="#fff"/>
<rect x="1349" y="322" width="1" height="26" fill="#000"/>
<rect x="1347" y="339" width="5" height="3" fill="#000"/>
<rect x="1348" y="340" width="3" height="1" fill="#fff"/>
<rect x="1357" y="333" width="1" height="3" fill="#000"/>
<rect x="1355" y="334" width="5" height="2" fill="#000"/>
<rect x="1365" y="295" width="1" height="40" fill="#000"/>
<rect x="1363" y="300" width="5" height="35" fill="#000"/>
<rect x="1364" y="301" width="3" height="33" fill="#fff"/>
<rect x="1373" y="276" width="1" height="27" fill="#000"/>
<rect x="1371" y="277" width="5" height="23" fill="#000"/>
<rect x="1372" y="278" width="3" height="21" fill="#fff"/>
<rect x="1381" y="268" width="1" height="16" fill="#000"/>
<rect x="1379" y="277" width="5" height="3" fill="#000"/>
</g>
<rect x="1313" y="287" width="103" height="8" fill="#00ee00"/>
<rect x="1445" y="291" width="8" height="1" fill="#ff0000"/>
<rect x="1452.5" y="288.5" width="3" height="4" fill="#fff" stroke="#ff0000" stroke-width="1"/>
<rect x="1456.5" y="280.5" width="73" height="23" fill="#fff" stroke="#ff0000" stroke-width="1"/>
<path d="M1383,24 L1393,24 L1388,29 Z" fill="#c0c0c0" shape-rendering="auto"/>
<rect x="0" y="23" width="1636" height="1" fill="#000"/>
<rect x="0" y="576" width="1636" height="1" fill="#000"/>
<rect x="0" y="578" width="1636" height="1" fill="#000"/>
<rect x="0" y="748" width="1636" height="1" fill="#000"/>
<rect x="0" y="750" width="1636" height="1" fill="#000"/>
<rect x="0" y="924" width="1636" height="1" fill="#000"/>
<rect x="1635" y="23" width="1" height="902" fill="#000"/>
<g clip-path="url(#cd)">
<rect x="5" y="612" width="1" height="15" fill="#c0c0c0"/>
<rect x="13" y="612" width="1" height="15" fill="#c0c0c0"/>
<rect x="21" y="611" width="1" height="16" fill="#c0c0c0"/>
<rect x="29" y="611" width="1" height="16" fill="#c0c0c0"/>
<rect x="37" y="611" width="1" height="16" fill="#c0c0c0"/>
<rect x="45" y="611" width="1" height="16" fill="#c0c0c0"/>
<rect x="53" y="612" width="1" height="15" fill="#c0c0c0"/>
<rect x="61" y="614" width="1" height="13" fill="#c0c0c0"/>
<rect x="69" y="616" width="1" height="11" fill="#c0c0c0"/>
<rect x="77" y="616" width="1" height="11" fill="#c0c0c0"/>
<rect x="85" y="618" width="1" height="9" fill="#c0c0c0"/>
<rect x="93" y="618" width="1" height="9" fill="#c0c0c0"/>
<rect x="101" y="617" width="1" height="10" fill="#c0c0c0"/>
<rect x="109" y="616" width="1" height="11" fill="#c0c0c0"/>
<rect x="117" y="617" width="1" height="10" fill="#c0c0c0"/>
<rect x="125" y="616" width="1" height="11" fill="#c0c0c0"/>
<rect x="133" y="616" width="1" height="11" fill="#c0c0c0"/>
<rect x="141" y="612" width="1" height="15" fill="#c0c0c0"/>
<rect x="149" y="608" width="1" height="19" fill="#c0c0c0"/>
<rect x="157" y="605" width="1" height="22" fill="#c0c0c0"/>
<rect x="165" y="604" width="1" height="23" fill="#c0c0c0"/>
<rect x="173" y="602" width="1" height="25" fill="#c0c0c0"/>
<rect x="181" y="602" width="1" height="25" fill="#c0c0c0"/>
<rect x="189" y="600" width="1" height="27" fill="#c0c0c0"/>
<rect x="197" y="592" width="1" height="35" fill="#c0c0c0"/>
<rect x="205" y="590" width="1" height="37" fill="#c0c0c0"/>
<rect x="213" y="588" width="1" height="39" fill="#c0c0c0"/>
<rect x="221" y="589" width="1" height="38" fill="#c0c0c0"/>
<rect x="229" y="594" width="1" height="33" fill="#c0c0c0"/>
<rect x="237" y="600" width="1" height="27" fill="#c0c0c0"/>
<rect x="245" y="606" width="1" height="21" fill="#c0c0c0"/>
<rect x="253" y="611" width="1" height="16" fill="#c0c0c0"/>
<rect x="261" y="615" width="1" height="12" fill="#c0c0c0"/>
<rect x="269" y="620" width="1" height="7" fill="#c0c0c0"/>
<rect x="277" y="625" width="1" height="2" fill="#c0c0c0"/>
<rect x="285" y="626" width="1" height="2" fill="#c0c0c0"/>
<rect x="293" y="626" width="1" height="1" fill="#c0c0c0"/>
<rect x="301" y="626" width="1" height="2" fill="#c0c0c0"/>
<rect x="309" y="625" width="1" height="2" fill="#c0c0c0"/>
<rect x="317" y="624" width="1" height="3" fill="#c0c0c0"/>
<rect x="325" y="620" width="1" height="7" fill="#c0c0c0"/>
<rect x="333" y="617" width="1" height="10" fill="#c0c0c0"/>
<rect x="341" y="617" width="1" height="10" fill="#c0c0c0"/>
<rect x="349" y="619" width="1" height="8" fill="#c0c0c0"/>
<rect x="357" y="621" width="1" height="6" fill="#c0c0c0"/>
<rect x="365" y="620" width="1" height="7" fill="#c0c0c0"/>
<rect x="373" y="620" width="1" height="7" fill="#c0c0c0"/>
<rect x="381" y="621" width="1" height="6" fill="#c0c0c0"/>
<rect x="389" y="622" width="1" height="5" fill="#c0c0c0"/>
<rect x="397" y="624" width="1" height="3" fill="#c0c0c0"/>
<rect x="405" y="625" width="1" height="2" fill="#c0c0c0"/>
<rect x="413" y="625" width="1" height="2" fill="#c0c0c0"/>
<rect x="421" y="626" width="1" height="3" fill="#c0c0c0"/>
<rect x="429" y="626" width="1" height="3" fill="#c0c0c0"/>
<rect x="437" y="626" width="1" height="3" fill="#c0c0c0"/>
<rect x="445" y="626" width="1" height="5" fill="#c0c0c0"/>
<rect x="453" y="626" width="1" height="5" fill="#c0c0c0"/>
<rect x="461" y="626" width="1" height="6" fill="#c0c0c0"/>
<rect x="469" y="626" width="1" height="5" fill="#c0c0c0"/>
<rect x="477" y="626" width="1" height="3" fill="#c0c0c0"/>
<rect x="485" y="626" width="1" height="2" fill="#c0c0c0"/>
<rect x="493" y="626" width="1" height="2" fill="#c0c0c0"/>
<rect x="501" y="626" width="1" height="2" fill="#c0c0c0"/>
<rect x="509" y="626" width="1" height="2" fill="#c0c0c0"/>
<rect x="517" y="626" width="1" height="2" fill="#c0c0c0"/>
<rect x="525" y="626" width="1" height="3" fill="#c0c0c0"/>
<rect x="533" y="626" width="1" height="3" fill="#c0c0c0"/>
<rect x="541" y="625" width="1" height="2" fill="#c0c0c0"/>
<rect x="549" y="623" width="1" height="4" fill="#c0c0c0"/>
<rect x="557" y="625" width="1" height="2" fill="#c0c0c0"/>
<rect x="565" y="626" width="1" height="1" fill="#c0c0c0"/>
<rect x="573" y="626" width="1" height="2" fill="#c0c0c0"/>
<rect x="581" y="626" width="1" height="5" fill="#c0c0c0"/>
<rect x="589" y="626" width="1" height="10" fill="#c0c0c0"/>
<rect x="597" y="626" width="1" height="11" fill="#c0c0c0"/>
<rect x="605" y="626" width="1" height="13" fill="#c0c0c0"/>
<rect x="613" y="626" width="1" height="13" fill="#c0c0c0"/>
<rect x="621" y="626" width="1" height="13" fill="#c0c0c0"/>
<rect x="629" y="626" width="1" height="8" fill="#c0c0c0"/>
<rect x="637" y="626" width="1" height="8" fill="#c0c0c0"/>
<rect x="645" y="626" width="1" height="7" fill="#c0c0c0"/>
<rect x="653" y="626" width="1" height="6" fill="#c0c0c0"/>
<rect x="661" y="626" width="1" height="7" fill="#c0c0c0"/>
<rect x="669" y="626" width="1" height="8" fill="#c0c0c0"/>
<rect x="677" y="626" width="1" height="9" fill="#c0c0c0"/>
<rect x="685" y="626" width="1" height="8" fill="#c0c0c0"/>
<rect x="693" y="626" width="1" height="8" fill="#c0c0c0"/>
<rect x="701" y="626" width="1" height="7" fill="#c0c0c0"/>
<rect x="709" y="626" width="1" height="8" fill="#c0c0c0"/>
<rect x="717" y="626" width="1" height="9" fill="#c0c0c0"/>
<rect x="725" y="626" width="1" height="10" fill="#c0c0c0"/>
<rect x="733" y="626" width="1" height="14" fill="#c0c0c0"/>
<rect x="741" y="626" width="1" height="16" fill="#c0c0c0"/>
<rect x="749" y="626" width="1" height="18" fill="#c0c0c0"/>
<rect x="757" y="626" width="1" height="19" fill="#c0c0c0"/>
<rect x="765" y="626" width="1" height="16" fill="#c0c0c0"/>
<rect x="773" y="626" width="1" height="14" fill="#c0c0c0"/>
<rect x="781" y="626" width="1" height="9" fill="#c0c0c0"/>
<rect x="789" y="626" width="1" height="5" fill="#c0c0c0"/>
<rect x="797" y="626" width="1" height="2" fill="#c0c0c0"/>
<rect x="805" y="626" width="1" height="2" fill="#c0c0c0"/>
<rect x="813" y="626" width="1" height="5" fill="#c0c0c0"/>
<rect x="821" y="626" width="1" height="13" fill="#c0c0c0"/>
<rect x="829" y="626" width="1" height="26" fill="#c0c0c0"/>
<rect x="837" y="626" width="1" height="35" fill="#c0c0c0"/>
<rect x="845" y="626" width="1" height="44" fill="#c0c0c0"/>
<rect x="853" y="626" width="1" height="55" fill="#c0c0c0"/>
<rect x="861" y="626" width="1" height="75" fill="#c0c0c0"/>
<rect x="869" y="626" width="1" height="93" fill="#c0c0c0"/>
<rect x="877" y="626" width="1" height="104" fill="#c0c0c0"/>
<rect x="885" y="626" width="1" height="111" fill="#c0c0c0"/>
<rect x="893" y="626" width="1" height="115" fill="#c0c0c0"/>
<rect x="901" y="626" width="1" height="112" fill="#c0c0c0"/>
<rect x="909" y="626" width="1" height="107" fill="#c0c0c0"/>
<rect x="917" y="626" width="1" height="93" fill="#c0c0c0"/>
<rect x="925" y="626" width="1" height="74" fill="#c0c0c0"/>
<rect x="933" y="626" width="1" height="59" fill="#c0c0c0"/>
<rect x="941" y="626" width="1" height="49" fill="#c0c0c0"/>
<rect x="949" y="626" width="1" height="39" fill="#c0c0c0"/>
<rect x="957" y="626" width="1" height="32" fill="#c0c0c0"/>
<rect x="965" y="626" width="1" height="25" fill="#c0c0c0"/>
<rect x="973" y="626" width="1" height="23" fill="#c0c0c0"/>
<rect x="981" y="626" width="1" height="23" fill="#c0c0c0"/>
<rect x="989" y="626" width="1" height="21" fill="#c0c0c0"/>
<rect x="997" y="626" width="1" height="18" fill="#c0c0c0"/>
<rect x="1005" y="626" width="1" height="13" fill="#c0c0c0"/>
<rect x="1013" y="626" width="1" height="8" fill="#c0c0c0"/>
<rect x="1021" y="626" width="1" height="3" fill="#c0c0c0"/>
<rect x="1029" y="625" width="1" height="2" fill="#c0c0c0"/>
<rect x="1037" y="618" width="1" height="9" fill="#c0c0c0"/>
<rect x="1045" y="616" width="1" height="11" fill="#c0c0c0"/>
<rect x="1053" y="615" width="1" height="12" fill="#c0c0c0"/>
<rect x="1061" y="614" width="1" height="13" fill="#c0c0c0"/>
<rect x="1069" y="614" width="1" height="13" fill="#c0c0c0"/>
<rect x="1077" y="615" width="1" height="12" fill="#c0c0c0"/>
<rect x="1085" y="620" width="1" height="7" fill="#c0c0c0"/>
<rect x="1093" y="623" width="1" height="4" fill="#c0c0c0"/>
<rect x="1101" y="625" width="1" height="2" fill="#c0c0c0"/>
<rect x="1109" y="626" width="1" height="1" fill="#c0c0c0"/>
<rect x="1117" y="626" width="1" height="1" fill="#c0c0c0"/>
<rect x="1125" y="626" width="1" height="1" fill="#c0c0c0"/>
<rect x="1133" y="625" width="1" height="2" fill="#c0c0c0"/>
<rect x="1141" y="622" width="1" height="5" fill="#c0c0c0"/>
<rect x="1149" y="619" width="1" height="8" fill="#c0c0c0"/>
<rect x="1157" y="619" width="1" height="8" fill="#c0c0c0"/>
<rect x="1165" y="620" width="1" height="7" fill="#c0c0c0"/>
<rect x="1173" y="621" width="1" height="6" fill="#c0c0c0"/>
<rect x="1181" y="620" width="1" height="7" fill="#c0c0c0"/>
<rect x="1189" y="624" width="1" height="3" fill="#c0c0c0"/>
<rect x="1197" y="625" width="1" height="2" fill="#c0c0c0"/>
<rect x="1205" y="626" width="1" height="1" fill="#c0c0c0"/>
<rect x="1213" y="626" width="1" height="1" fill="#c0c0c0"/>
<rect x="1221" y="626" width="1" height="1" fill="#c0c0c0"/>
<rect x="1229" y="626" width="1" height="6" fill="#c0c0c0"/>
<rect x="1237" y="626" width="1" height="9" fill="#c0c0c0"/>
<rect x="1245" y="626" width="1" height="12" fill="#c0c0c0"/>
<rect x="1253" y="626" width="1" height="17" fill="#c0c0c0"/>
<rect x="1261" y="626" width="1" height="21" fill="#c0c0c0"/>
<rect x="1269" y="626" width="1" height="21" fill="#c0c0c0"/>
<rect x="1277" y="626" width="1" height="20" fill="#c0c0c0"/>
<rect x="1285" y="626" width="1" height="19" fill="#c0c0c0"/>
<rect x="1293" y="626" width="1" height="19" fill="#c0c0c0"/>
<rect x="1301" y="626" width="1" height="19" fill="#c0c0c0"/>
<rect x="1309" y="626" width="1" height="19" fill="#c0c0c0"/>
<rect x="1317" y="626" width="1" height="19" fill="#c0c0c0"/>
<rect x="1325" y="626" width="1" height="15" fill="#c0c0c0"/>
<rect x="1333" y="626" width="1" height="13" fill="#c0c0c0"/>
<rect x="1341" y="626" width="1" height="10" fill="#c0c0c0"/>
<rect x="1349" y="626" width="1" height="8" fill="#c0c0c0"/>
<rect x="1357" y="626" width="1" height="6" fill="#c0c0c0"/>
<rect x="1365" y="626" width="1" height="1" fill="#c0c0c0"/>
<rect x="1373" y="619" width="1" height="8" fill="#c0c0c0"/>
<rect x="1381" y="614" width="1" height="13" fill="#c0c0c0"/>
<polyline points="2,604 25,608 50,610 75,612 100,614 125,616 142,616 155,613 175,610 200,604 217,597 237,594 260,596 275,602 300,617 320,623 345,623 362,620 390,618 422,622 445,626 470,629 495,629 532,628 550,626 580,626 610,630 625,633 637,635 665,635 670,634 690,633 720,634 735,636 765,638 795,639 810,635 825,635 842,640 865,657 890,693 905,712 920,722 935,721 950,710 970,686 990,662 1015,648 1040,635 1065,626 1077,619 1095,617 1105,617 1127,620 1152,623 1165,622 1190,621 1225,622 1240,625 1243,626 1259,631 1277,637 1296,641 1310,644 1327,644 1344,642 1358,639 1377,632 1381,630" fill="none" stroke="#ff0000" stroke-width="1" stroke-dasharray="3,2"/>
</g>
<g clip-path="url(#cr)">
<line x1="0" y1="786.5" x2="1635" y2="786.5" stroke="#c0c0c0" stroke-width="1" stroke-dasharray="3,3"/>
<line x1="0" y1="837.5" x2="1635" y2="837.5" stroke="#c0c0c0" stroke-width="1" stroke-dasharray="3,3"/>
<line x1="0" y1="898.5" x2="1635" y2="898.5" stroke="#c0c0c0" stroke-width="1" stroke-dasharray="3,3"/>
<polyline points="-3,826 5,822 13,819 21,815 29,811 37,816 45,817 53,819 61,839 69,835 77,827 85,835 93,823 101,827 109,823 117,828 125,824 133,815 141,802 149,797 157,802 165,802 173,801 181,806 189,798 197,780 205,804 213,803 221,814 229,834 237,838 245,844 253,844 261,845 269,852 277,853 285,847 293,843 301,831 309,832 317,830 325,815 333,815 341,830 349,838 357,838 365,829 373,835 381,837 389,840 397,841 405,844 413,850 421,846 429,844 437,837 445,845 453,847 461,847 469,839 477,825 485,829 493,835 501,839 509,839 517,845 525,845 533,836 541,819 549,822 557,848 565,844 573,847 581,854 589,859 597,858 605,854 613,848 621,847 629,834 637,835 645,834 653,840 661,842 669,851 677,857 685,842 693,844 701,848 709,837 717,848 725,852 733,861 741,859 749,862 757,853 765,845 773,836 781,828 789,820 797,822 805,843 813,851 821,868 829,880 837,871 845,875 853,880 861,893 869,896 877,888 885,885 893,885 901,869 909,865 917,842 925,830 933,831 941,835 949,834 957,835 965,834 973,841 981,844 989,844 997,837 1005,834 1013,829 1021,829 1029,825 1037,818 1045,827 1053,830 1061,830 1069,830 1077,834 1085,846 1093,844 1101,841 1109,841 1117,840 1125,835 1133,833 1141,829 1149,818 1157,830 1165,834 1173,835 1181,835 1189,848 1197,842 1205,838 1213,837 1221,846 1229,855 1237,856 1245,856 1253,867 1261,869 1269,852 1277,845 1285,847 1293,849 1301,854 1309,852 1317,849 1325,832 1333,840 1341,835 1349,833 1357,831 1365,817 1373,809 1381,810" fill="none" stroke="#1e90ff" stroke-width="1" />
</g>
<rect x="1636" y="45" width="3" height="1" fill="#000"/>
<rect x="1636" y="78" width="3" height="1" fill="#000"/>
<rect x="1636" y="111" width="3" height="1" fill="#000"/>
<rect x="1636" y="144" width="3" height="1" fill="#000"/>
<rect x="1636" y="177" width="3" height="1" fill="#000"/>
<rect x="1636" y="210" width="3" height="1" fill="#000"/>
<rect x="1636" y="243" width="3" height="1" fill="#000"/>
<rect x="1636" y="342" width="3" height="1" fill="#000"/>
<rect x="1636" y="375" width="3" height="1" fill="#000"/>
<rect x="1636" y="408" width="3" height="1" fill="#000"/>
<rect x="1636" y="441" width="3" height="1" fill="#000"/>
<rect x="1636" y="474" width="3" height="1" fill="#000"/>
<rect x="1636" y="507" width="3" height="1" fill="#000"/>
<rect x="1636" y="540" width="3" height="1" fill="#000"/>
<rect x="1636" y="573" width="3" height="1" fill="#000"/>
<rect x="1636" y="580" width="3" height="1" fill="#000"/>
<rect x="1636" y="626" width="3" height="1" fill="#000"/>
<rect x="61" y="925" width="1" height="3" fill="#000"/>
<rect x="125" y="925" width="1" height="3" fill="#000"/>
<rect x="189" y="925" width="1" height="3" fill="#000"/>
<rect x="253" y="925" width="1" height="3" fill="#000"/>
<rect x="317" y="925" width="1" height="3" fill="#000"/>
<rect x="381" y="925" width="1" height="3" fill="#000"/>
<rect x="445" y="925" width="1" height="3" fill="#000"/>
<rect x="509" y="925" width="1" height="3" fill="#000"/>
<rect x="573" y="925" width="1" height="3" fill="#000"/>
<rect x="637" y="925" width="1" height="3" fill="#000"/>
<rect x="701" y="925" width="1" height="3" fill="#000"/>
<rect x="765" y="925" width="1" height="3" fill="#000"/>
<rect x="829" y="925" width="1" height="3" fill="#000"/>
<rect x="893" y="925" width="1" height="3" fill="#000"/>
<rect x="957" y="925" width="1" height="3" fill="#000"/>
<rect x="1021" y="925" width="1" height="3" fill="#000"/>
<rect x="1085" y="925" width="1" height="3" fill="#000"/>
<rect x="1149" y="925" width="1" height="3" fill="#000"/>
<rect x="1213" y="925" width="1" height="3" fill="#000"/>
<rect x="1277" y="925" width="1" height="3" fill="#000"/>
<rect x="1341" y="925" width="1" height="3" fill="#000"/>
<rect x="1637" y="228" width="41" height="11" fill="#ff5a1a"/>
<rect x="1637" y="251" width="41" height="11" fill="#ff0000"/>
<rect x="1637" y="274" width="41" height="11" fill="#000000"/>
<rect x="1637" y="285" width="41" height="11" fill="#32cd32"/>
<rect x="1637" y="305" width="41" height="11" fill="#0000ff"/>
<rect x="1637" y="323" width="41" height="11" fill="#0000ff"/>
</svg>
<div class="t" style="left:1641px;top:42px;font-size:10px;color:#000;font-weight:normal;letter-spacing:-0.4px">1.35280</div>
<div class="t" style="left:1641px;top:75px;font-size:10px;color:#000;font-weight:normal;letter-spacing:-0.4px">1.33920</div>
<div class="t" style="left:1641px;top:108px;font-size:10px;color:#000;font-weight:normal;letter-spacing:-0.4px">1.32560</div>
<div class="t" style="left:1641px;top:141px;font-size:10px;color:#000;font-weight:normal;letter-spacing:-0.4px">1.31240</div>
<div class="t" style="left:1641px;top:174px;font-size:10px;color:#000;font-weight:normal;letter-spacing:-0.4px">1.29880</div>
<div class="t" style="left:1641px;top:207px;font-size:10px;color:#000;font-weight:normal;letter-spacing:-0.4px">1.28520</div>
<div class="t" style="left:1641px;top:240px;font-size:10px;color:#000;font-weight:normal;letter-spacing:-0.4px">1.27160</div>
<div class="t" style="left:1641px;top:339px;font-size:10px;color:#000;font-weight:normal;letter-spacing:-0.4px">1.23120</div>
<div class="t" style="left:1641px;top:372px;font-size:10px;color:#000;font-weight:normal;letter-spacing:-0.4px">1.21760</div>
<div class="t" style="left:1641px;top:405px;font-size:10px;color:#000;font-weight:normal;letter-spacing:-0.4px">1.20400</div>
<div class="t" style="left:1641px;top:438px;font-size:10px;color:#000;font-weight:normal;letter-spacing:-0.4px">1.19080</div>
<div class="t" style="left:1641px;top:471px;font-size:10px;color:#000;font-weight:normal;letter-spacing:-0.4px">1.17720</div>
<div class="t" style="left:1641px;top:504px;font-size:10px;color:#000;font-weight:normal;letter-spacing:-0.4px">1.16360</div>
<div class="t" style="left:1641px;top:537px;font-size:10px;color:#000;font-weight:normal;letter-spacing:-0.4px">1.15000</div>
<div class="t" style="left:1641px;top:570px;font-size:10px;color:#000;font-weight:normal;letter-spacing:-0.4px">1.13680</div>
<div class="t" style="left:1641px;top:230px;font-size:10px;color:#fff;font-weight:normal;letter-spacing:-0.4px">1.27537</div>
<div class="t" style="left:1641px;top:253px;font-size:10px;color:#fff;font-weight:normal;letter-spacing:-0.4px">1.26597</div>
<div class="t" style="left:1641px;top:276px;font-size:10px;color:#fff;font-weight:normal;letter-spacing:-0.4px">1.25713</div>
<div class="t" style="left:1641px;top:287px;font-size:10px;color:#fff;font-weight:normal;letter-spacing:-0.4px">1.25208</div>
<div class="t" style="left:1641px;top:307px;font-size:10px;color:#fff;font-weight:normal;letter-spacing:-0.4px">1.24390</div>
<div class="t" style="left:1641px;top:325px;font-size:10px;color:#fff;font-weight:normal;letter-spacing:-0.4px">1.23655</div>
<div class="t" style="left:1639px;top:581px;font-size:10px;color:#000;font-weight:normal;letter-spacing:-0.3px">0.0148</div>
<div class="t" style="left:1639px;top:622px;font-size:10px;color:#000;font-weight:normal;letter-spacing:-0.3px">0.00</div>
<div class="t" style="left:1639px;top:736px;font-size:10px;color:#000;font-weight:normal;letter-spacing:-0.6px">-0.038415</div>
<div class="t" style="left:1639px;top:753px;font-size:10px;color:#000;font-weight:normal;letter-spacing:-0.2px">100</div>
<div class="t" style="left:1639px;top:782px;font-size:10px;color:#000;font-weight:normal;letter-spacing:-0.2px">80</div>
<div class="t" style="left:1639px;top:833px;font-size:10px;color:#000;font-weight:normal;letter-spacing:-0.2px">50</div>
<div class="t" style="left:1639px;top:894px;font-size:10px;color:#000;font-weight:normal;letter-spacing:-0.2px">15</div>
<div class="t" style="left:1639px;top:913px;font-size:10px;color:#000;font-weight:normal;letter-spacing:-0.2px">0</div>
<div class="t" style="left:-4px;top:930px;font-size:10px;color:#000;font-weight:normal;letter-spacing:-0.3px">13 Nov 2019</div>
<div class="t" style="left:60px;top:930px;font-size:10px;color:#000;font-weight:normal;letter-spacing:-0.3px">22 Nov 2019</div>
<div class="t" style="left:124px;top:930px;font-size:10px;color:#000;font-weight:normal;letter-spacing:-0.3px">2 Dec 2019</div>
<div class="t" style="left:188px;top:930px;font-size:10px;color:#000;font-weight:normal;letter-spacing:-0.3px">11 Dec 2019</div>
<div class="t" style="left:252px;top:930px;font-size:10px;color:#000;font-weight:normal;letter-spacing:-0.3px">20 Dec 2019</div>
<div class="t" style="left:316px;top:930px;font-size:10px;color:#000;font-weight:normal;letter-spacing:-0.3px">30 Dec 2019</div>
<div class="t" style="left:380px;top:930px;font-size:10px;color:#000;font-weight:normal;letter-spacing:-0.3px">8 Jan 2020</div>
<div class="t" style="left:444px;top:930px;font-size:10px;color:#000;font-weight:normal;letter-spacing:-0.3px">17 Jan 2020</div>
<div class="t" style="left:508px;top:930px;font-size:10px;color:#000;font-weight:normal;letter-spacing:-0.3px">27 Jan 2020</div>
<div class="t" style="left:572px;top:930px;font-size:10px;color:#000;font-weight:normal;letter-spacing:-0.3px">5 Feb 2020</div>
<div class="t" style="left:636px;top:930px;font-size:10px;color:#000;font-weight:normal;letter-spacing:-0.3px">14 Feb 2020</div>
<div class="t" style="left:700px;top:930px;font-size:10px;color:#000;font-weight:normal;letter-spacing:-0.3px">24 Feb 2020</div>
<div class="t" style="left:764px;top:930px;font-size:10px;color:#000;font-weight:normal;letter-spacing:-0.3px">4 Mar 2020</div>
<div class="t" style="left:828px;top:930px;font-size:10px;color:#000;font-weight:normal;letter-spacing:-0.3px">13 Mar 2020</div>
<div class="t" style="left:892px;top:930px;font-size:10px;color:#000;font-weight:normal;letter-spacing:-0.3px">23 Mar 2020</div>
<div class="t" style="left:956px;top:930px;font-size:10px;color:#000;font-weight:normal;letter-spacing:-0.3px">1 Apr 2020</div>
<div class="t" style="left:1020px;top:930px;font-size:10px;color:#000;font-weight:normal;letter-spacing:-0.3px">12 Apr 2020</div>
<div class="t" style="left:1084px;top:930px;font-size:10px;color:#000;font-weight:normal;letter-spacing:-0.3px">21 Apr 2020</div>
<div class="t" style="left:1148px;top:930px;font-size:10px;color:#000;font-weight:normal;letter-spacing:-0.3px">30 Apr 2020</div>
<div class="t" style="left:1212px;top:930px;font-size:10px;color:#000;font-weight:normal;letter-spacing:-0.3px">10 May 2020</div>
<div class="t" style="left:1276px;top:930px;font-size:10px;color:#000;font-weight:normal;letter-spacing:-0.3px">19 May 2020</div>
<div class="t" style="left:1340px;top:930px;font-size:10px;color:#000;font-weight:normal;letter-spacing:-0.3px">28 May 2020</div>
<div style="position:absolute;left:0;top:30px;width:0;height:0;border-left:4px solid transparent;border-right:4px solid transparent;border-bottom:5px solid #000"></div>
<div class="t" style="left:12px;top:27px;font-size:10px;color:#000;font-weight:normal;letter-spacing:-0.34px">GBPUSD-,Daily&nbsp; 1.25792 1.26142 1.25526 1.25713</div>
<div class="t" style="left:1px;top:583px;font-size:10px;color:#000;font-weight:normal;letter-spacing:-0.33px">MACD(12,26,9) 0.004052 -0.001467</div>
<div class="t" style="left:1px;top:754px;font-size:10px;color:#000;font-weight:normal;letter-spacing:-0.2px">RSI(14) 66.2174</div>
<div class="t" style="left:1457px;top:281px;font-size:21px;color:#ff0000;font-weight:normal;letter-spacing:-0.5px">1.25208</div>
<div class="t" style="left:1431px;top:323px;font-size:30px;color:#00ff00;font-family:'Liberation Serif',serif;font-weight:500;text-shadow:1px 1px 0 #000;letter-spacing:3px">多空转折点</div>
<div style="position:absolute;left:0;top:43px;width:52px;height:25px;background:linear-gradient(#fa5656,#e43636);border-top:1px solid #b40000;border-right:1px solid #b40000;box-sizing:border-box"></div>
<div style="position:absolute;left:4px;top:66px;width:44px;height:1px;background:#7a0000"></div><div style="position:absolute;left:4px;top:67px;width:44px;height:1px;background:#f07070"></div>
<div style="position:absolute;left:167px;top:43px;width:52px;height:25px;background:linear-gradient(#fa5656,#e43636);border-top:1px solid #b40000;border-left:1px solid #b40000;box-sizing:border-box"></div>
<div style="position:absolute;left:171px;top:66px;width:44px;height:1px;background:#7a0000"></div><div style="position:absolute;left:171px;top:67px;width:44px;height:1px;background:#f07070"></div>
<div style="position:absolute;left:0;top:67px;width:109px;height:40px;background:linear-gradient(#e23434,#b00a0a);border:1px solid #b00000;border-left:none;box-sizing:border-box"></div>
<div style="position:absolute;left:111px;top:67px;width:108px;height:40px;background:linear-gradient(#e23434,#b00a0a);border:1px solid #b00000;box-sizing:border-box"></div>
<div style="position:absolute;left:0;top:67px;width:51px;height:1px;background:#e43636"></div>
<div style="position:absolute;left:168px;top:67px;width:51px;height:1px;background:#e43636"></div>
<div style="position:absolute;left:4px;top:67px;width:44px;height:1px;background:#f07070"></div><div style="position:absolute;left:171px;top:67px;width:44px;height:1px;background:#f07070"></div>
<div style="position:absolute;left:54px;top:43px;width:112px;height:22px;background:#fff;border:1px solid #a4a8b0;box-sizing:border-box"></div>
<div style="position:absolute;left:75px;top:44px;width:1px;height:20px;background:#a4a8b0"></div>
<div style="position:absolute;left:144px;top:44px;width:1px;height:20px;background:#a4a8b0"></div>
<div style="position:absolute;left:55px;top:44px;width:20px;height:20px;background:linear-gradient(#f2f2f2 0,#ececec 33%,#d8d8d8 34%,#d2d2d2 100%);border:1px solid #f8f8f8;box-sizing:border-box"></div>
<div style="position:absolute;left:145px;top:44px;width:20px;height:20px;background:linear-gradient(#f2f2f2 0,#ececec 33%,#d8d8d8 34%,#d2d2d2 100%);border:1px solid #f8f8f8;box-sizing:border-box"></div>
<div style="position:absolute;left:62px;top:52px;width:0;height:0;border-left:3px solid transparent;border-right:3px solid transparent;border-top:4px solid #4a64c0"></div>
<div style="position:absolute;left:151px;top:51px;width:0;height:0;border-left:3px solid transparent;border-right:3px solid transparent;border-bottom:4px solid #4a64c0"></div>
<div class="t" style="left:115px;top:47px;font-size:13px;color:#000;font-weight:normal;letter-spacing:-0.3px">1.00</div>
<div class="t" style="left:12px;top:49px;font-size:12px;color:#fff;font-weight:normal;letter-spacing:-0.3px">SELL</div>
<div class="t" style="left:181px;top:49px;font-size:12px;color:#fff;font-weight:normal;letter-spacing:-0.4px">BUY</div>
<div class="t" style="left:20px;top:87px;font-size:12px;color:#fff;font-weight:bold;letter-spacing:-0.3px">1.25</div>
<div class="t" style="left:47px;top:68px;font-size:34px;color:#fff;font-weight:normal;letter-spacing:-1px">71</div>
<div class="t" style="left:87px;top:72px;font-size:12px;color:#fff;font-weight:bold;">3</div>
<div class="t" style="left:130px;top:87px;font-size:12px;color:#fff;font-weight:bold;letter-spacing:-0.3px">1.25</div>
<div class="t" style="left:158px;top:68px;font-size:34px;color:#fff;font-weight:normal;letter-spacing:-1px">76</div>
<div class="t" style="left:198px;top:72px;font-size:12px;color:#fff;font-weight:bold;">6</div>
<div class="t tb" style="left:921px;top:2px">M1</div>
<div class="t tb" style="left:949px;top:2px">M5</div>
<div class="t tb" style="left:975px;top:2px">M15</div>
<div class="t tb" style="left:1003px;top:2px">M30</div>
<div class="t tb" style="left:1035px;top:2px">H1</div>
<div class="t tb" style="left:1062px;top:2px">H4</div>
<div class="t tb" style="left:1090px;top:2px">D1</div>
<div class="t tb" style="left:1118px;top:2px">W1</div>
<div class="t tb" style="left:1145px;top:2px">MN</div>
<div class="t cj" style="left:24px;top:-1px">新订单</div>
<div class="t cj" style="left:178px;top:-1px">自动交易</div>
</body></html>
